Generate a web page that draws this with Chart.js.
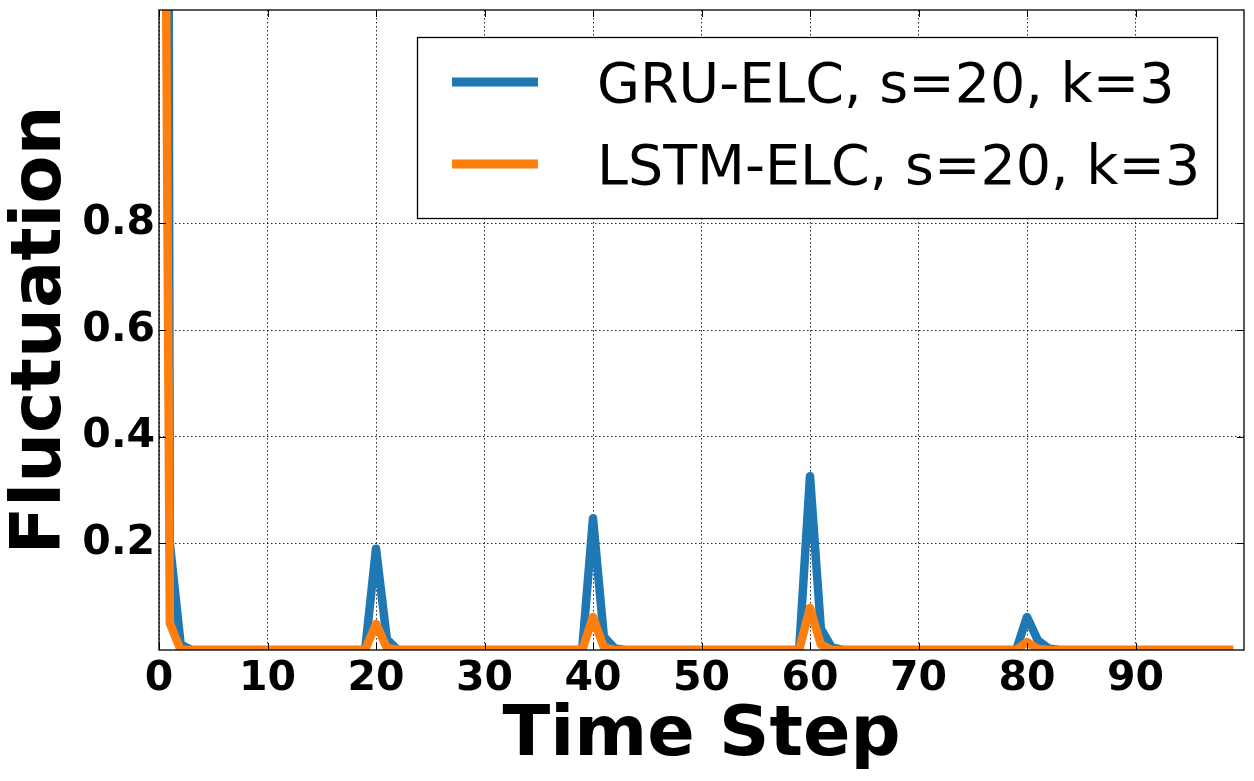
<!DOCTYPE html>
<html>
<head>
<meta charset="utf-8">
<script src="https://cdn.jsdelivr.net/npm/chart.js@4/dist/chart.umd.min.js"></script>
<style>
  body { margin: 0; background: #fff; }
  #wrap { width: 1254px; height: 781px; }
</style>
</head>
<body>
<div id="wrap"><canvas id="fluct" width="1254" height="781"></canvas></div>
<script>
// time steps 0..99
const steps = Array.from({ length: 100 }, (_, i) => i);

// GRU-ELC, s=20, k=3 (first value runs off the top of the plot)
const gruValues = [
  10, 0.2, 0.01, 0, 0, 0, 0, 0, 0, 0, 0, 0, 0, 0, 0, 0, 0, 0, 0, 0,
  0.19, 0.02, 0, 0, 0, 0, 0, 0, 0, 0, 0, 0, 0, 0, 0, 0, 0, 0, 0, 0,
  0.247, 0.025, 0.003, 0, 0, 0, 0, 0, 0, 0, 0, 0, 0, 0, 0, 0, 0, 0, 0, 0,
  0.326, 0.04, 0.005, 0, 0, 0, 0, 0, 0, 0, 0, 0, 0, 0, 0, 0, 0, 0, 0, 0,
  0.062, 0.018, 0.003, 0, 0, 0, 0, 0, 0, 0, 0, 0, 0, 0, 0, 0, 0, 0, 0, 0
];

// LSTM-ELC, s=20, k=3
const lstmValues = [
  3.5, 0.05, 0, 0, 0, 0, 0, 0, 0, 0, 0, 0, 0, 0, 0, 0, 0, 0, 0, 0,
  0.049, 0.004, 0, 0, 0, 0, 0, 0, 0, 0, 0, 0, 0, 0, 0, 0, 0, 0, 0, 0,
  0.062, 0.005, 0, 0, 0, 0, 0, 0, 0, 0, 0, 0, 0, 0, 0, 0, 0, 0, 0, 0,
  0.079, 0.01, 0, 0, 0, 0, 0, 0, 0, 0, 0, 0, 0, 0, 0, 0, 0, 0, 0, 0,
  0.015, 0.002, 0, 0, 0, 0, 0, 0, 0, 0, 0, 0, 0, 0, 0, 0, 0, 0, 0, 0
];

const seriesLabels = ['GRU-ELC, s=20, k=3', 'LSTM-ELC, s=20, k=3'];
const seriesColors = ['#1f77b4', '#ff7f0e'];
const xTicks = [0, 10, 20, 30, 40, 50, 60, 70, 80, 90];
const yTicks = [0.2, 0.4, 0.6, 0.8];

const FONT = "'DejaVu Sans', 'Liberation Sans', sans-serif";

const toPoints = vals => vals.map((v, i) => ({ x: steps[i], y: v }));

// no extra room for half-labels at the scale ends
const noPad = s => { s.paddingTop = 0; s.paddingBottom = 0; s.paddingLeft = 0; s.paddingRight = 0; };

// frame, inward ticks (matplotlib classic look) and the boxed legend
const framePlugin = {
  id: 'frame',
  afterDatasetsDraw(chart) {
    const { ctx, chartArea: a, scales } = chart;
    ctx.save();
    ctx.strokeStyle = '#000';
    ctx.lineWidth = 1;
    ctx.beginPath();
    xTicks.forEach(v => {
      const px = Math.round(scales.x.getPixelForValue(v)) + 0.5;
      ctx.moveTo(px, a.bottom); ctx.lineTo(px, a.bottom - 7);
      ctx.moveTo(px, a.top); ctx.lineTo(px, a.top + 7);
    });
    yTicks.forEach(v => {
      const py = Math.round(scales.y.getPixelForValue(v)) + 0.5;
      ctx.moveTo(a.left, py); ctx.lineTo(a.left + 7, py);
      ctx.moveTo(a.right, py); ctx.lineTo(a.right - 7, py);
    });
    ctx.stroke();
    ctx.lineWidth = 1.3;
    ctx.strokeRect(a.left, a.top, a.right - a.left, a.bottom - a.top);
    ctx.restore();
  },
  afterDraw(chart) {
    const { ctx } = chart;
    ctx.save();
    ctx.fillStyle = '#fff';
    ctx.fillRect(417, 37, 800, 181);
    ctx.strokeStyle = '#000';
    ctx.lineWidth = 1.3;
    ctx.strokeRect(417.5, 37.5, 800, 181);
    const rows = [82, 164];
    chart.data.datasets.forEach((ds, i) => {
      ctx.strokeStyle = ds.borderColor;
      ctx.lineWidth = 9;
      ctx.lineCap = 'butt';
      ctx.beginPath();
      ctx.moveTo(452, rows[i]);
      ctx.lineTo(538, rows[i]);
      ctx.stroke();
      ctx.fillStyle = '#000';
      ctx.font = '55.5px ' + FONT;
      ctx.textBaseline = 'alphabetic';
      ctx.textAlign = 'left';
      ctx.fillText(ds.label, 597, rows[i] + 20);
    });
    ctx.restore();
  }
};

new Chart(document.getElementById('fluct'), {
  type: 'line',
  data: {
    datasets: [
      {
        label: seriesLabels[0], data: toPoints(gruValues),
        borderColor: seriesColors[0], order: 2
      },
      {
        label: seriesLabels[1], data: toPoints(lstmValues),
        borderColor: seriesColors[1], order: 1
      }
    ]
  },
  options: {
    responsive: false,
    devicePixelRatio: 1,
    animation: false,
    layout: { padding: { top: 10, right: 10, left: 0, bottom: 0 } },
    datasets: {
      line: {
        borderWidth: 8.5, pointRadius: 0, tension: 0, clip: 0,
        borderJoinStyle: 'round', borderCapStyle: 'butt', fill: false
      }
    },
    plugins: { legend: { display: false }, tooltip: { enabled: false } },
    scales: {
      x: {
        type: 'linear', min: 0, max: 100,
        afterBuildTicks: s => { s.ticks = xTicks.map(v => ({ value: v })); },
        afterFit: s => { s.height = 131; noPad(s); },
        grid: { color: 'rgba(0,0,0,0.85)', lineWidth: 1, drawTicks: false },
        border: { display: false, dash: [1.5, 2.5] },
        ticks: { color: '#000', padding: 5, maxRotation: 0, font: { family: FONT, size: 41, weight: 'bold' } },
        title: {
          display: true, text: 'Time Step', color: '#000',
          padding: { top: 0, bottom: 2 },
          font: { family: FONT, size: 70, weight: 'bold' }
        }
      },
      y: {
        min: 0, max: 1.2,
        afterBuildTicks: s => { s.ticks = yTicks.map(v => ({ value: v })); },
        afterFit: s => { s.width = 159; noPad(s); },
        grid: { color: 'rgba(0,0,0,0.85)', lineWidth: 1, drawTicks: false },
        border: { display: false, dash: [1.5, 2.5] },
        ticks: {
          color: '#000', padding: 4,
          font: { family: FONT, size: 41, weight: 'bold' },
          callback: v => v.toFixed(1)
        },
        title: {
          display: true, text: 'Fluctuation', color: '#000',
          padding: { top: 0, bottom: 0 },
          font: { family: FONT, size: 70, weight: 'bold' }
        }
      }
    }
  },
  plugins: [framePlugin]
});
</script>
</body>
</html>
